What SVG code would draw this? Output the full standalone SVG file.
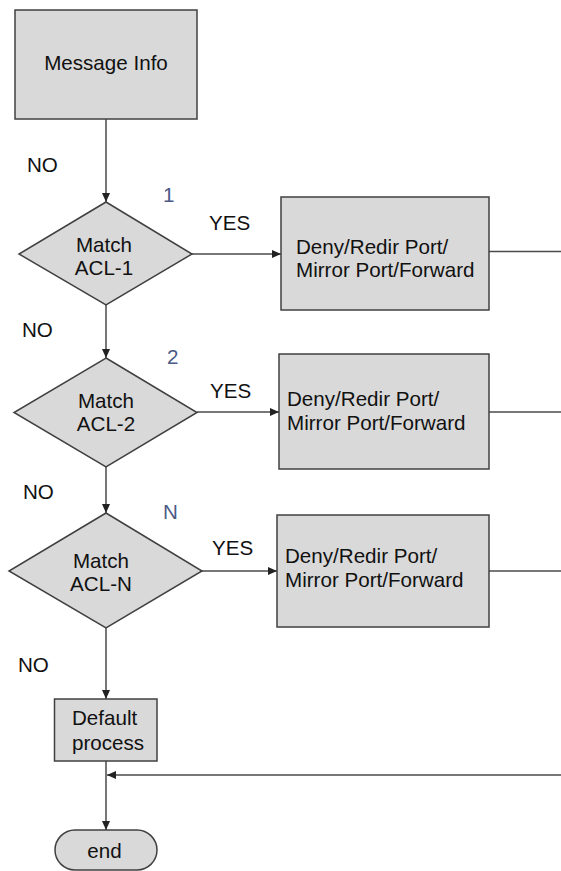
<svg xmlns="http://www.w3.org/2000/svg" width="561" height="871" viewBox="0 0 561 871">
<style>
.shape{fill:#d9d9d9;stroke:#404040;stroke-width:1.5}
.conn{fill:none;stroke:#4a4a4a;stroke-width:1.5}
text{font-family:"Liberation Sans",Arial,sans-serif;font-size:20.6px;fill:#111}
.mid{text-anchor:middle}
.num{fill:#4a5a85}
</style>
<defs>
<marker id="arr" markerUnits="userSpaceOnUse" markerWidth="9" markerHeight="8" refX="9" refY="4" orient="auto">
<path d="M0,0 L9,4 L0,8 z" fill="#222"/>
</marker>
</defs>
<rect width="561" height="871" fill="#fff"/>
<g id="connectors">
<line class="conn" x1="106" y1="119" x2="106" y2="202" marker-end="url(#arr)"/>
<line class="conn" x1="192" y1="254" x2="281" y2="254" marker-end="url(#arr)"/>
<line class="conn" x1="489" y1="251.5" x2="561" y2="251.5"/>
<line class="conn" x1="106" y1="305" x2="106" y2="358" marker-end="url(#arr)"/>
<line class="conn" x1="197" y1="412" x2="279" y2="412" marker-end="url(#arr)"/>
<line class="conn" x1="489" y1="412" x2="561" y2="412"/>
<line class="conn" x1="106" y1="467" x2="106" y2="513" marker-end="url(#arr)"/>
<line class="conn" x1="202" y1="571" x2="277" y2="571" marker-end="url(#arr)"/>
<line class="conn" x1="489" y1="571" x2="561" y2="571"/>
<line class="conn" x1="106" y1="628" x2="106" y2="699" marker-end="url(#arr)"/>
<line class="conn" x1="106" y1="761" x2="106" y2="830" marker-end="url(#arr)"/>
<line class="conn" x1="561" y1="775" x2="107" y2="775" marker-end="url(#arr)"/>
<text x="27" y="172">NO</text>
<text x="22" y="337">NO</text>
<text x="23" y="499">NO</text>
<text x="18" y="672">NO</text>
<text x="209" y="230">YES</text>
<text x="210" y="398">YES</text>
<text x="212" y="555">YES</text>
<text class="num" x="163" y="202">1</text>
<text class="num" x="167" y="364">2</text>
<text class="num" x="163" y="519">N</text>
</g>
<g id="message-info">
<rect class="shape" x="15" y="10" width="182" height="109"/>
<text class="mid" x="106" y="70">Message Info</text>
</g>
<g id="match-acl-1">
<polygon class="shape" points="106,202 192,254 106,305 19,254"/>
<text class="mid" x="104" y="252">Match</text>
<text class="mid" x="104" y="275">ACL-1</text>
</g>
<g id="action-1">
<rect class="shape" x="281" y="197" width="208" height="113"/>
<text x="296" y="254">Deny/Redir Port/</text>
<text x="296" y="277">Mirror Port/Forward</text>
</g>
<g id="match-acl-2">
<polygon class="shape" points="106,358 197,412.5 106,467 14,412.5"/>
<text class="mid" x="106" y="408">Match</text>
<text class="mid" x="106" y="431">ACL-2</text>
</g>
<g id="action-2">
<rect class="shape" x="279" y="354" width="210" height="115"/>
<text x="287" y="406">Deny/Redir Port/</text>
<text x="287" y="430">Mirror Port/Forward</text>
</g>
<g id="match-acl-n">
<polygon class="shape" points="106,513 202,571 106,628 9,571"/>
<text class="mid" x="101" y="568">Match</text>
<text class="mid" x="101" y="591">ACL-N</text>
</g>
<g id="action-n">
<rect class="shape" x="277" y="515" width="212" height="112"/>
<text x="285" y="563">Deny/Redir Port/</text>
<text x="285" y="587">Mirror Port/Forward</text>
</g>
<g id="default-process">
<rect class="shape" x="54.5" y="699" width="102.5" height="62"/>
<text x="72" y="725">Default</text>
<text x="72" y="750">process</text>
</g>
<g id="end">
<rect class="shape" x="55" y="830" width="102" height="40" rx="20" ry="20"/>
<text class="mid" x="104.5" y="858">end</text>
</g>
</svg>
